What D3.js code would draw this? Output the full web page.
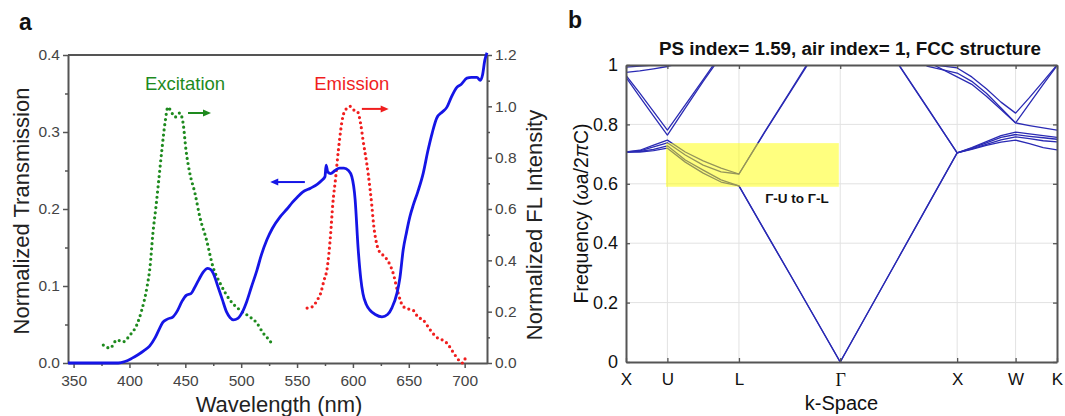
<!DOCTYPE html>
<html><head><meta charset="utf-8">
<script src="https://cdn.jsdelivr.net/npm/d3@7"></script>
<style>
body{margin:0;background:#fff}
svg{display:block}
text{font-family:"Liberation Sans",Arial,Helvetica,sans-serif}
</style>
</head><body>
<svg id="c" width="1065" height="416"></svg>
<script>
// ---------- Panel a data ----------
const transWl  = [345,360,380,390,396,402,408,413,418,423,427,430,434,439,443,447,451,455,458,462,466,470,473,476,479,483,487,490,493,497,501,505,509,514,518,523,528,535,541,546,550,555,562,568,572,575,576,577.5,580,584,588,592,596,599,602,604.6,607,609,612,615,620,626,631,635,639.5,642,645,648,651,654,658,663,667,671,675,680,684,688,693,697,702,706,711,714,716,718,720];
const transVal = [0,0,0,0,0.002,0.006,0.011,0.016,0.022,0.033,0.045,0.053,0.057,0.060,0.068,0.080,0.088,0.090,0.097,0.108,0.118,0.123,0.121,0.113,0.100,0.083,0.066,0.059,0.056,0.058,0.066,0.080,0.098,0.120,0.140,0.160,0.175,0.190,0.200,0.209,0.215,0.222,0.227,0.232,0.237,0.242,0.257,0.248,0.246,0.250,0.253,0.253,0.250,0.242,0.212,0.150,0.110,0.090,0.076,0.069,0.063,0.060,0.063,0.072,0.091,0.110,0.147,0.170,0.190,0.205,0.222,0.247,0.275,0.299,0.318,0.326,0.332,0.345,0.358,0.362,0.370,0.371,0.371,0.367,0.374,0.393,0.403];

const excWl  = [376.6,382.6,388.8,394,400.5,406.5,411,415.7,418.4,421,423.7,425.6,429,431.8,434.5,438,440.8,445,448,450.6,454,458.6,463,469,474.8,481,490,499,508,514,519.6,524,528.5];
const excVal = [0.070,0.058,0.090,0.082,0.109,0.148,0.206,0.296,0.374,0.506,0.608,0.686,0.830,0.935,0.997,0.974,0.958,0.974,0.935,0.830,0.740,0.662,0.569,0.479,0.374,0.312,0.245,0.206,0.179,0.156,0.117,0.095,0.070];

const emiWl  = [559,564,568,571,574,577,580,582,584.5,587,591,594,597.5,601,604,607,609,613.6,617,618.5,621,623,627,631,636,640,645,650,654,658,663,669,675,680,684,690,695,698,701.5];
const emiVal = [0.214,0.220,0.245,0.270,0.320,0.370,0.500,0.620,0.720,0.830,0.960,0.990,1.000,0.985,0.980,0.930,0.870,0.740,0.610,0.540,0.470,0.440,0.420,0.400,0.350,0.280,0.220,0.210,0.205,0.180,0.167,0.130,0.100,0.090,0.078,0.040,0.010,0.000,0.030];

const wlTicks      = [350,400,450,500,550,600,650,700];
const wlMinorTicks = [375,425,475,525,575,625,675];
const transTicks      = [0,0.1,0.2,0.3,0.4];
const transMinorTicks = [0.05,0.15,0.25,0.35];
const flTicks      = [0,0.2,0.4,0.6,0.8,1.0,1.2];
const flMinorTicks = [0.1,0.3,0.5,0.7,0.9,1.1];

// annotations (data units)
const arrows = [
  {axis:"fl", x1:452.4, x2:473, y:0.974, color:"#1e8a1e"},
  {axis:"t",  x1:557,   x2:526, y:0.235, color:"#1515e6"},
  {axis:"fl", x1:608,   x2:632, y:0.990, color:"#f01e1e"}
];
const notes = [
  {text:"Excitation", x:449.7, y:1.063, color:"#1e8a1e"},
  {text:"Emission",   x:599,   y:1.063, color:"#f01e1e"}
];

// ---------- Panel b data ----------
const kLabels   = ["X","U","L","\u0393","X","W","K"];
const kLabelPos = [0,0.354,0.966,1.832,2.832,3.332,3.686];
const freqTicks = [0,0.2,0.4,0.6,0.8,1];
const kSamples = [0,0.118,0.236,0.354, 0.507,0.660,0.813,0.966, 1.183,1.399,1.616,1.832, 2.082,2.332,2.582,2.832, 2.957,3.082,3.207,3.332, 3.450,3.568,3.686];
const bandA = [0.707,0.707,0.712,0.720, 0.673,0.636,0.606,0.593, 0.444,0.297,0.148,0.000, 0.176,0.352,0.528,0.704, 0.716,0.729,0.740,0.747, 0.735,0.722,0.714];
const bandB = [0.707,0.709,0.716,0.728, 0.680,0.646,0.613,0.593, 0.445,0.298,0.149,0.000, 0.176,0.352,0.528,0.704, 0.718,0.733,0.748,0.758, 0.752,0.745,0.741];
const bandC = [0.707,0.711,0.724,0.738, 0.697,0.663,0.640,0.633, 0.771,0.905,1.040,1.200, 1.150,1.000,0.852,0.704, 0.720,0.738,0.756,0.766, 0.760,0.755,0.750];
const bandD = [0.707,0.713,0.730,0.747, 0.707,0.677,0.653,0.633, 0.773,0.908,1.045,1.200, 1.150,1.002,0.854,0.704, 0.722,0.742,0.762,0.774, 0.768,0.762,0.756];
const bandE = [0.965,0.905,0.843,0.781, 0.866,0.951,1.037,1.120, 1.200,1.200,1.200,1.200, 1.200,1.040,1.003,0.990, 0.960,0.920,0.875,0.838, 0.890,0.945,1.000];
const bandF = [0.958,0.893,0.828,0.764, 0.855,0.945,1.030,1.120, 1.200,1.200,1.200,1.200, 1.200,1.050,0.995,0.973, 0.945,0.905,0.855,0.805, 0.870,0.935,0.998];
const bandG = [0.993,0.996,1.000,1.010, 1.050,1.100,1.150,1.200, 1.200,1.200,1.200,1.200, 1.200,1.080,1.010,0.960, 0.935,0.895,0.850,0.805, 0.796,0.788,0.781];
const bandH = [0.975,0.980,0.987,0.995, 1.010,1.050,1.100,1.150, 1.200,1.200,1.200,1.200, 1.200,1.200,1.200,1.200, 1.200,1.200,1.200,1.200, 1.200,1.200,1.200];
const gapBox = {k0:0.342, k1:1.82, f0:0.59, f1:0.737, label:"\u0393-U to \u0393-L"};

// ================= drawing =================
const svg = d3.select("#c");

// ---------- panel a ----------
const ax = {l:68, r:487, t:55, b:363};
const x  = d3.scaleLinear([345,720],[ax.l,ax.r]);
const yT = d3.scaleLinear([0,0.4],[ax.b,ax.t]);
const yF = d3.scaleLinear([0,1.2],[ax.b,ax.t]);
const axisCol = "#555";
const a = svg.append("g");

function styleAxis(g, fs){
  g.selectAll(".domain").attr("stroke",axisCol).attr("stroke-width",2);
  g.selectAll(".tick line").attr("stroke",axisCol).attr("stroke-width",1.5);
  g.selectAll(".tick text").attr("fill","#444").style("font-size",fs+"px")
    .style("font-family","'Liberation Sans',Arial,sans-serif");
}
// minor ticks
a.append("g").attr("transform",`translate(${ax.l},0)`)
  .call(d3.axisLeft(yT).tickValues(transMinorTicks).tickFormat("").tickSize(3).tickSizeOuter(0))
  .call(g=>{g.select(".domain").remove(); styleAxis(g,15.5);});
a.append("g").attr("transform",`translate(${ax.r},0)`)
  .call(d3.axisRight(yF).tickValues(flMinorTicks).tickFormat("").tickSize(3).tickSizeOuter(0))
  .call(g=>{g.select(".domain").remove(); styleAxis(g,15.5);});
a.append("g").attr("transform",`translate(0,${ax.b})`)
  .call(d3.axisBottom(x).tickValues(wlMinorTicks).tickFormat("").tickSize(3).tickSizeOuter(0))
  .call(g=>{g.select(".domain").remove(); styleAxis(g,15.5);});
// top border
a.append("line").attr("x1",ax.l).attr("x2",ax.r).attr("y1",yT(0.4)).attr("y2",yT(0.4))
  .attr("stroke",axisCol).attr("stroke-width",2);
// major axes
a.append("g").attr("transform",`translate(${ax.l},0)`)
  .call(d3.axisLeft(yT).tickValues(transTicks).tickFormat(d3.format(".1f")).tickSize(5).tickPadding(3).tickSizeOuter(0))
  .call(g=>styleAxis(g,15.5));
a.append("g").attr("transform",`translate(${ax.r},0)`)
  .call(d3.axisRight(yF).tickValues(flTicks).tickFormat(d3.format(".1f")).tickSize(5).tickPadding(3).tickSizeOuter(0))
  .call(g=>styleAxis(g,15.5));
a.append("g").attr("transform",`translate(0,${ax.b})`)
  .call(d3.axisBottom(x).tickValues(wlTicks).tickFormat(d3.format("d")).tickSize(5).tickPadding(7).tickSizeOuter(0))
  .call(g=>styleAxis(g,15.5));

// curves
const lineT = d3.line().x(d=>x(d[0])).y(d=>yT(d[1])).curve(d3.curveMonotoneX);
const lineF = d3.line().x(d=>x(d[0])).y(d=>yF(d[1])).curve(d3.curveMonotoneX);
a.append("path").datum(excWl.map((w,i)=>[w,excVal[i]])).attr("d",lineF)
  .attr("fill","none").attr("stroke","#1e8a1e").attr("stroke-width",3.2)
  .attr("stroke-linecap","round").attr("stroke-dasharray","0 5.2");
a.append("path").datum(emiWl.map((w,i)=>[w,emiVal[i]])).attr("d",lineF)
  .attr("fill","none").attr("stroke","#f01e1e").attr("stroke-width",3.2)
  .attr("stroke-linecap","round").attr("stroke-dasharray","0 5.2");
a.append("path").datum(transWl.map((w,i)=>[w,transVal[i]])).attr("d",lineT)
  .attr("fill","none").attr("stroke","#1515e6").attr("stroke-width",2.8)
  .attr("stroke-linejoin","round");

// arrows
arrows.forEach(ar=>{
  const ys = ar.axis==="fl" ? yF : yT;
  const X1 = x(ar.x1), X2 = x(ar.x2), Y = ys(ar.y);
  const dir = Math.sign(X2-X1);
  a.append("line").attr("x1",X1).attr("x2",X2-dir*6).attr("y1",Y).attr("y2",Y)
    .attr("stroke",ar.color).attr("stroke-width",2);
  a.append("path").attr("d",`M${X2},${Y} L${X2-dir*8},${Y-3.5} L${X2-dir*8},${Y+3.5} Z`).attr("fill",ar.color);
});
notes.forEach(n=>{
  a.append("text").attr("x",x(n.x)).attr("y",yF(n.y)).attr("text-anchor","middle")
    .attr("fill",n.color).style("font-size","18.5px").text(n.text);
});
// axis titles
a.append("text").attr("transform",`translate(28.5,${(ax.t+ax.b)/2+2}) rotate(-90)`)
  .attr("text-anchor","middle").attr("fill","#222").style("font-size","22px").text("Normalized Transmission");
a.append("text").attr("transform",`translate(541.5,${(ax.t+ax.b)/2+16}) rotate(-90)`)
  .attr("text-anchor","middle").attr("fill","#222").style("font-size","22px").text("Normalized FL Intensity");
a.append("text").attr("x",279).attr("y",412).attr("text-anchor","middle")
  .attr("fill","#222").style("font-size","22px").text("Wavelength (nm)");
a.append("text").attr("x",19).attr("y",30).attr("fill","#111")
  .style("font-size","23px").style("font-weight","bold").text("a");

// ---------- panel b ----------
const bx = {l:626, r:1057, t:65, b:362};
const xk = d3.scaleLinear([0,3.686],[bx.l,bx.r]);
const yf = d3.scaleLinear([0,1],[bx.b,bx.t]);
const b = svg.append("g");
const gridCol = "#e2e2e2", frameCol = "#555";

// grid
b.append("g").selectAll("line.gx").data(kLabelPos.slice(1,-1)).join("line")
  .attr("x1",d=>xk(d)).attr("x2",d=>xk(d)).attr("y1",bx.t).attr("y2",bx.b)
  .attr("stroke",gridCol).attr("stroke-width",1);
b.append("g").selectAll("line.gy").data(freqTicks.slice(1,-1)).join("line")
  .attr("x1",bx.l).attr("x2",bx.r).attr("y1",d=>yf(d)).attr("y2",d=>yf(d))
  .attr("stroke",gridCol).attr("stroke-width",1);

// bands
b.append("clipPath").attr("id","clipb").append("rect")
  .attr("x",bx.l).attr("y",bx.t).attr("width",bx.r-bx.l).attr("height",bx.b-bx.t);
const bands = [bandA,bandB,bandC,bandD,bandE,bandF,bandG,bandH];
const lineB = d3.line().x((d,i)=>xk(kSamples[i])).y(d=>yf(d)).curve(d3.curveLinear);
b.append("g").attr("clip-path","url(#clipb)").selectAll("path").data(bands).join("path")
  .attr("d",lineB).attr("fill","none").attr("stroke","#2a2ab4").attr("stroke-width",1.3)
  .attr("stroke-linejoin","round");

// highlight box (translucent, on top of bands)
b.append("rect").attr("x",xk(gapBox.k0)).attr("width",xk(gapBox.k1)-xk(gapBox.k0))
  .attr("y",yf(gapBox.f1)).attr("height",yf(gapBox.f0)-yf(gapBox.f1))
  .attr("fill","#ffff00").attr("fill-opacity",0.5);
b.append("text").attr("x",xk(1.462)).attr("y",yf(0.535)).attr("text-anchor","middle")
  .attr("fill","#111").style("font-size","13.5px").style("font-weight","bold").text(gapBox.label);

// axes (ticks inside)
function styleB(g){
  g.selectAll(".domain").attr("stroke",frameCol).attr("stroke-width",2);
  g.selectAll(".tick line").attr("stroke",frameCol).attr("stroke-width",1.3);
  g.selectAll(".tick text").attr("fill","#111").style("font-family","'Liberation Sans',Arial,sans-serif");
}
b.append("g").attr("transform",`translate(${bx.l},0)`)
  .call(d3.axisLeft(yf).tickValues(freqTicks).tickFormat(d3.format("~g")).tickSize(-4).tickPadding(8).tickSizeOuter(0))
  .call(g=>{styleB(g); g.selectAll(".tick text").style("font-size","18px");});
b.append("g").attr("transform",`translate(${bx.r},0)`)
  .call(d3.axisRight(yf).tickValues(freqTicks).tickFormat("").tickSize(-4).tickSizeOuter(0))
  .call(styleB);
b.append("g").attr("transform",`translate(0,${bx.t})`)
  .call(d3.axisTop(xk).tickValues(kLabelPos).tickFormat("").tickSize(-4).tickSizeOuter(0))
  .call(styleB);
b.append("g").attr("transform",`translate(0,${bx.b})`)
  .call(d3.axisBottom(xk).tickValues(kLabelPos).tickFormat((d,i)=>kLabels[i]).tickSize(-4).tickPadding(11).tickSizeOuter(0))
  .call(g=>{styleB(g); g.selectAll(".tick text").style("font-size","17px")
    .filter(d=>d===kLabelPos[3]).style("font-family","'Liberation Serif','Times New Roman',serif").style("font-size","18px");});

// titles
b.append("text").attr("x",850).attr("y",55).attr("text-anchor","middle").attr("fill","#111")
  .style("font-size","18.8px").style("font-weight","bold").text("PS index= 1.59, air index= 1, FCC structure");
b.append("text").attr("x",(bx.l+bx.r)/2).attr("y",410).attr("text-anchor","middle").attr("fill","#111")
  .style("font-size","20px").text("k-Space");
const ft = b.append("text").attr("transform",`translate(588,${(bx.t+bx.b)/2}) rotate(-90)`)
  .attr("text-anchor","middle").attr("fill","#111").style("font-size","19.5px");
ft.append("tspan").text("Frequency (");
ft.append("tspan").style("font-style","italic").text("\u03c9");
ft.append("tspan").text("a/2");
ft.append("tspan").style("font-style","italic").text("\u03c0");
ft.append("tspan").text("C)");
b.append("text").attr("x",568).attr("y",28).attr("fill","#111")
  .style("font-size","23px").style("font-weight","bold").text("b");
</script>
</body></html>
